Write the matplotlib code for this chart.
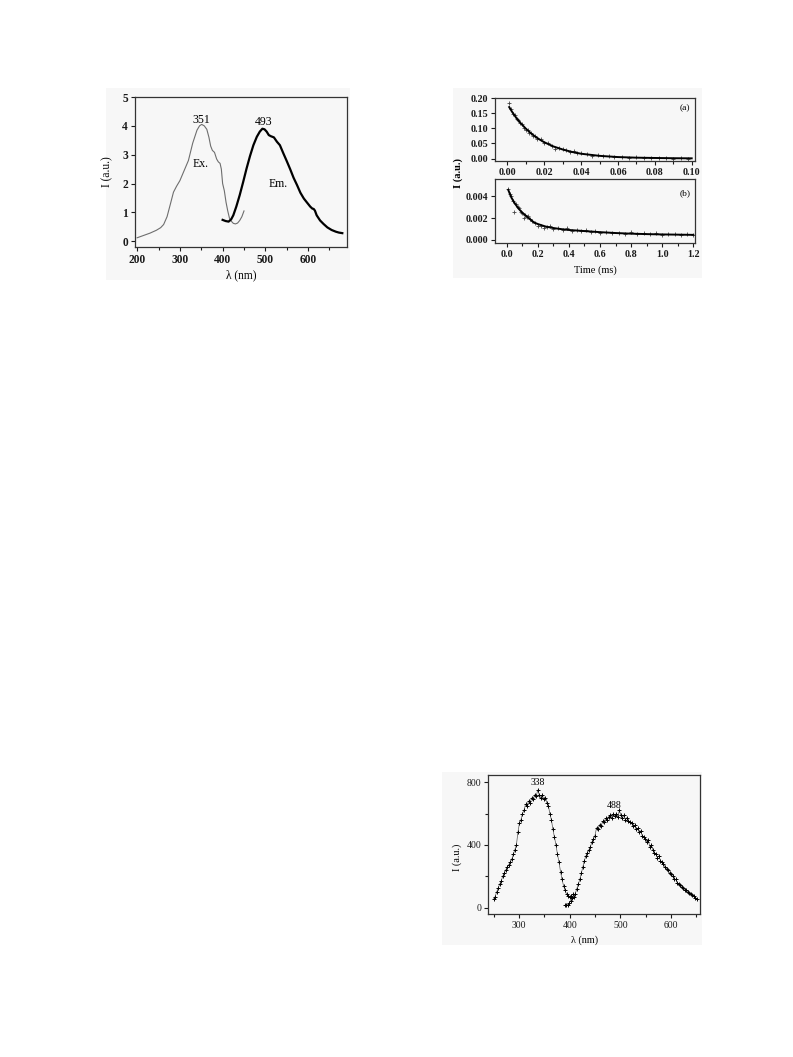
import numpy as np
import matplotlib
matplotlib.use('Agg')
import matplotlib.pyplot as plt
from matplotlib.patches import Rectangle
from matplotlib.ticker import MultipleLocator, FormatStrFormatter

plt.rcParams['font.family'] = ['Liberation Serif', 'DejaVu Serif']

# ── Fig. 1: excitation / emission spectra ─────────────────────────
ex_wl = [200, 215, 230, 245, 255, 262, 270, 278, 285, 292, 300, 310, 320, 330, 340,
         346, 351, 357, 363, 368, 372, 376, 381, 386, 390, 394, 397, 400, 404, 408,
         412, 416, 420, 425, 430, 435, 440, 445, 450]
ex_I = [0.12, 0.2, 0.28, 0.38, 0.47, 0.58, 0.85, 1.3, 1.7, 1.9, 2.1, 2.45, 2.8, 3.4, 3.85,
        4.0, 4.05, 4.0, 3.88, 3.6, 3.3, 3.15, 3.08, 2.85, 2.75, 2.7, 2.5, 2.0, 1.75, 1.35,
        1.05, 0.8, 0.7, 0.62, 0.6, 0.63, 0.72, 0.85, 1.05]
em_wl = [400, 407, 414, 420, 425, 432, 440, 448, 456, 464, 472, 480, 487, 493, 498, 503,
         508, 513, 520, 527, 534, 542, 550, 558, 566, 574, 582, 590, 598, 605, 610, 613,
         616, 620, 628, 636, 645, 655, 665, 672, 680]
em_I = [0.74, 0.7, 0.68, 0.76, 0.9, 1.2, 1.6, 2.05, 2.52, 2.95, 3.33, 3.62, 3.8, 3.9, 3.88, 3.8,
        3.68, 3.64, 3.6, 3.45, 3.33, 3.05, 2.78, 2.5, 2.2, 1.95, 1.68, 1.48, 1.33, 1.2, 1.13, 1.12,
        1.06, 0.9, 0.72, 0.6, 0.48, 0.39, 0.33, 0.3, 0.28]

# ── Fig. 2: decay curves ──────────────────────────────────────────
a_t = [0.001, 0.002, 0.003, 0.004, 0.005, 0.006, 0.007, 0.008, 0.009, 0.010, 0.011, 0.012,
       0.013, 0.014, 0.015, 0.016, 0.018, 0.020, 0.022, 0.024, 0.026, 0.028, 0.030, 0.032,
       0.034, 0.036, 0.038, 0.040, 0.043, 0.046, 0.049, 0.052, 0.055, 0.058, 0.062, 0.066,
       0.070, 0.074, 0.078, 0.082, 0.086, 0.090, 0.094, 0.098]
a_I = [0.182, 0.163, 0.148, 0.144, 0.130, 0.128, 0.116, 0.113, 0.101, 0.096, 0.094, 0.085,
       0.084, 0.076, 0.075, 0.066, 0.063, 0.052, 0.050, 0.041, 0.033, 0.035, 0.031, 0.028,
       0.021, 0.024, 0.018, 0.017, 0.016, 0.010, 0.011, 0.007, 0.008, 0.005, 0.005, 0.003,
       0.004, 0.002, 0.003, 0.001, 0.002, 0.000, 0.001, 0.000]
a_fit_t = [0.001, 0.0025, 0.005, 0.0075, 0.010, 0.0125, 0.015, 0.0175, 0.020, 0.025, 0.030,
           0.035, 0.040, 0.050, 0.060, 0.070, 0.080, 0.090, 0.100]
a_fit_I = [0.170, 0.155, 0.133, 0.115, 0.099, 0.085, 0.073, 0.063, 0.054, 0.040, 0.030,
           0.022, 0.016, 0.009, 0.005, 0.003, 0.002, 0.0012, 0.0008]

b_t = [0.01, 0.02, 0.03, 0.04, 0.05, 0.06, 0.07, 0.08, 0.09, 0.10, 0.11, 0.12, 0.13, 0.14,
       0.15, 0.16, 0.18, 0.20, 0.22, 0.24, 0.26, 0.28, 0.30, 0.33, 0.36, 0.39, 0.42, 0.45,
       0.48, 0.51, 0.54, 0.57, 0.60, 0.64, 0.68, 0.72, 0.76, 0.80, 0.84, 0.88, 0.92, 0.96,
       1.00, 1.04, 1.08, 1.12, 1.16, 1.20]
b_I = [0.0047, 0.0042, 0.0040, 0.0036, 0.0026, 0.0033, 0.0030, 0.0029, 0.0026, 0.0025,
       0.0020, 0.0023, 0.0021, 0.0022, 0.0019, 0.0017, 0.0015, 0.0013, 0.0013, 0.0011,
       0.0012, 0.0013, 0.0010, 0.0011, 0.0009, 0.0011, 0.0008, 0.0009, 0.0008, 0.0009,
       0.0007, 0.0008, 0.0006, 0.0007, 0.0006, 0.0006, 0.0005, 0.0007, 0.0005, 0.0006,
       0.0005, 0.0006, 0.0004, 0.0005, 0.0005, 0.0004, 0.0005, 0.0004]
b_fit_t = [0.01, 0.03, 0.05, 0.075, 0.10, 0.125, 0.15, 0.175, 0.20, 0.25, 0.30, 0.35, 0.40,
           0.50, 0.60, 0.70, 0.80, 0.90, 1.00, 1.10, 1.20]
b_fit_I = [0.0046, 0.0039, 0.0034, 0.0029, 0.0025, 0.0022, 0.0019, 0.0016, 0.00145, 0.00122,
           0.00108, 0.00098, 0.0009, 0.0008, 0.0007, 0.00062, 0.00056, 0.00052, 0.00049,
           0.00047, 0.00045]

# ── Fig. 3: noisy spectra ─────────────────────────────────────────
s_ex_wl = [250, 253, 256, 259, 262, 265, 268, 271, 274, 277, 280, 283, 286, 289, 292, 295,
           298, 301, 304, 307, 310, 313, 316, 319, 322, 325, 328, 331, 334, 337, 340, 343,
           346, 349, 352, 355, 358, 361, 364, 367, 370, 373, 376, 379, 382, 385, 388, 391,
           394, 397, 400, 403, 406]
s_ex_I = [55, 70, 100, 125, 150, 170, 200, 220, 240, 260, 275, 290, 310, 340, 370, 400,
          480, 540, 560, 600, 620, 660, 650, 680, 670, 700, 690, 720, 710, 750, 720, 700,
          720, 690, 700, 670, 650, 600, 560, 500, 450, 400, 340, 290, 230, 180, 140, 110,
          85, 75, 70, 75, 85]
s_em_wl = [390, 393, 396, 399, 402, 405, 408, 411, 414, 417, 420, 423, 426, 429, 432, 435,
           438, 441, 444, 447, 450, 453, 456, 459, 462, 465, 468, 471, 474, 477, 480, 483,
           486, 489, 492, 495, 498, 501, 504, 507, 510, 513, 516, 519, 522, 525, 528, 531,
           534, 537, 540, 543, 546, 549, 552, 555, 558, 561, 564, 567, 570, 573, 576, 579,
           582, 585, 588, 591, 594, 597, 600, 603, 606, 609, 612, 615, 618, 621, 624, 627,
           630, 633, 636, 639, 642, 645, 648, 651]
s_em_I = [15, 20, 18, 30, 45, 60, 70, 90, 120, 150, 180, 220, 260, 300, 330, 350,
          370, 390, 420, 440, 460, 510, 500, 530, 520, 550, 545, 570, 560, 580, 590, 575,
          595, 585, 600, 580, 620, 590, 570, 590, 560, 575, 550, 545, 540, 520, 525, 500,
          505, 480, 490, 460, 450, 440, 420, 430, 390, 400, 370, 350, 340, 320, 330, 300,
          290, 280, 260, 250, 240, 220, 215, 200, 185, 180, 160, 150, 145, 130, 125, 115,
          110, 100, 95, 90, 80, 75, 65, 55]

SCAN = '#f7f7f7'
INK = '#1a1a1a'

fig = plt.figure(figsize=(7.93, 10.57), dpi=100)
fig.patch.set_facecolor('white')

# faint grey scan backgrounds behind each graphic
for (x0, y0, x1, y1) in [(106, 88, 350, 280), (453, 88, 702, 278), (442, 772, 702, 945)]:
    fig.patches.append(Rectangle((x0 / 793, 1 - y1 / 1057), (x1 - x0) / 793, (y1 - y0) / 1057,
                                 transform=fig.transFigure, facecolor=SCAN, edgecolor='none',
                                 zorder=-10))


def style(ax, fs, weight='normal'):
    ax.set_facecolor('none')
    for sp in ax.spines.values():
        sp.set_linewidth(0.9)
        sp.set_color('#333333')
    ax.tick_params(which='both', direction='out', labelsize=fs, width=0.8, colors=INK, pad=2)
    ax.tick_params(which='major', length=3)
    ax.tick_params(which='minor', length=2)
    for lab in ax.get_xticklabels() + ax.get_yticklabels():
        lab.set_fontweight(weight)


def axes_px(l, t, r, b):
    return fig.add_axes([l / 793, 1 - b / 1057, (r - l) / 793, (b - t) / 1057])


# Fig. 1
ax1 = axes_px(135, 97, 347, 247)
ax1.plot(ex_wl, ex_I, color='#6e6e6e', lw=0.8)
ax1.plot(em_wl, em_I, color='black', lw=1.6)
ax1.set_xlim(195, 691)
ax1.set_ylim(-0.2, 5)
ax1.xaxis.set_major_locator(MultipleLocator(100))
ax1.xaxis.set_minor_locator(MultipleLocator(50))
ax1.yaxis.set_major_locator(MultipleLocator(1))
style(ax1, 8.3, 'bold')
ax1.text(350, 4.22, '351', ha='center', va='center', fontsize=8.5)
ax1.text(495, 4.12, '493', ha='center', va='center', fontsize=8.5)
ax1.text(348, 2.67, 'Ex.', ha='center', va='center', fontsize=8.5)
ax1.text(530, 2.0, 'Em.', ha='center', va='center', fontsize=8.5)
fig.text(241 / 793, 1 - 275 / 1057, 'λ (nm)', ha='center', va='center', fontsize=8.3)
fig.text(107 / 793, 1 - 172 / 1057, 'I (a.u.)', ha='center', va='center', rotation=90, fontsize=8.3)

# Fig. 2 (a)
ax2a = axes_px(495, 98, 695, 161)
ax2a.plot(a_t, a_I, ls='none', marker='+', ms=2.5, mew=0.6, color='#444444')
ax2a.plot(a_fit_t, a_fit_I, color='black', lw=1.4)
ax2a.set_xlim(-0.0067, 0.1018)
ax2a.set_ylim(-0.008, 0.20)
ax2a.xaxis.set_major_locator(MultipleLocator(0.02))
ax2a.xaxis.set_minor_locator(MultipleLocator(0.01))
ax2a.yaxis.set_major_locator(MultipleLocator(0.05))
ax2a.xaxis.set_major_formatter(FormatStrFormatter('%.2f'))
ax2a.yaxis.set_major_formatter(FormatStrFormatter('%.2f'))
style(ax2a, 7.2, 'bold')
ax2a.text(0.95, 0.845, '(a)', transform=ax2a.transAxes, ha='center', va='center', fontsize=6.8)

# Fig. 2 (b)
ax2b = axes_px(495, 179, 695, 243)
ax2b.plot(b_t, b_I, ls='none', marker='+', ms=2.5, mew=0.6, color='#444444')
ax2b.plot(b_fit_t, b_fit_I, color='black', lw=1.4)
ax2b.set_xlim(-0.075, 1.211)
ax2b.set_ylim(-0.0003, 0.0056)
ax2b.xaxis.set_major_locator(MultipleLocator(0.2))
ax2b.xaxis.set_minor_locator(MultipleLocator(0.1))
ax2b.yaxis.set_major_locator(MultipleLocator(0.002))
ax2b.xaxis.set_major_formatter(FormatStrFormatter('%.1f'))
ax2b.yaxis.set_major_formatter(FormatStrFormatter('%.3f'))
style(ax2b, 7.2, 'bold')
ax2b.text(0.95, 0.78, '(b)', transform=ax2b.transAxes, ha='center', va='center', fontsize=6.8)
fig.text(595 / 793, 1 - 270 / 1057, 'Time (ms)', ha='center', va='center', fontsize=7.5)
fig.text(458 / 793, 1 - 173 / 1057, 'I (a.u.)', ha='center', va='center', rotation=90,
         fontsize=7.5, fontweight='bold')

# Fig. 3
ax3 = axes_px(488, 775, 700, 914)
ax3.plot(s_ex_wl, s_ex_I, color='#555555', lw=0.5, marker='+', ms=2.3, mew=0.7, mec='black')
ax3.plot(s_em_wl, s_em_I, color='#555555', lw=0.5, marker='+', ms=2.3, mew=0.7, mec='black')
ax3.set_xlim(239, 657)
ax3.set_ylim(-40, 846)
ax3.xaxis.set_major_locator(MultipleLocator(100))
ax3.xaxis.set_minor_locator(MultipleLocator(50))
ax3.yaxis.set_major_locator(MultipleLocator(400))
ax3.yaxis.set_minor_locator(MultipleLocator(200))
style(ax3, 7)
ax3.text(338, 768, '338', ha='center', va='bottom', fontsize=7)
ax3.text(488, 622, '488', ha='center', va='bottom', fontsize=7)
fig.text(585 / 793, 1 - 940 / 1057, 'λ (nm)', ha='center', va='center', fontsize=7.3)
fig.text(457 / 793, 1 - 857 / 1057, 'I (a.u.)', ha='center', va='center', rotation=90, fontsize=7.3)

fig.savefig('out.png', dpi=100, facecolor='white')
